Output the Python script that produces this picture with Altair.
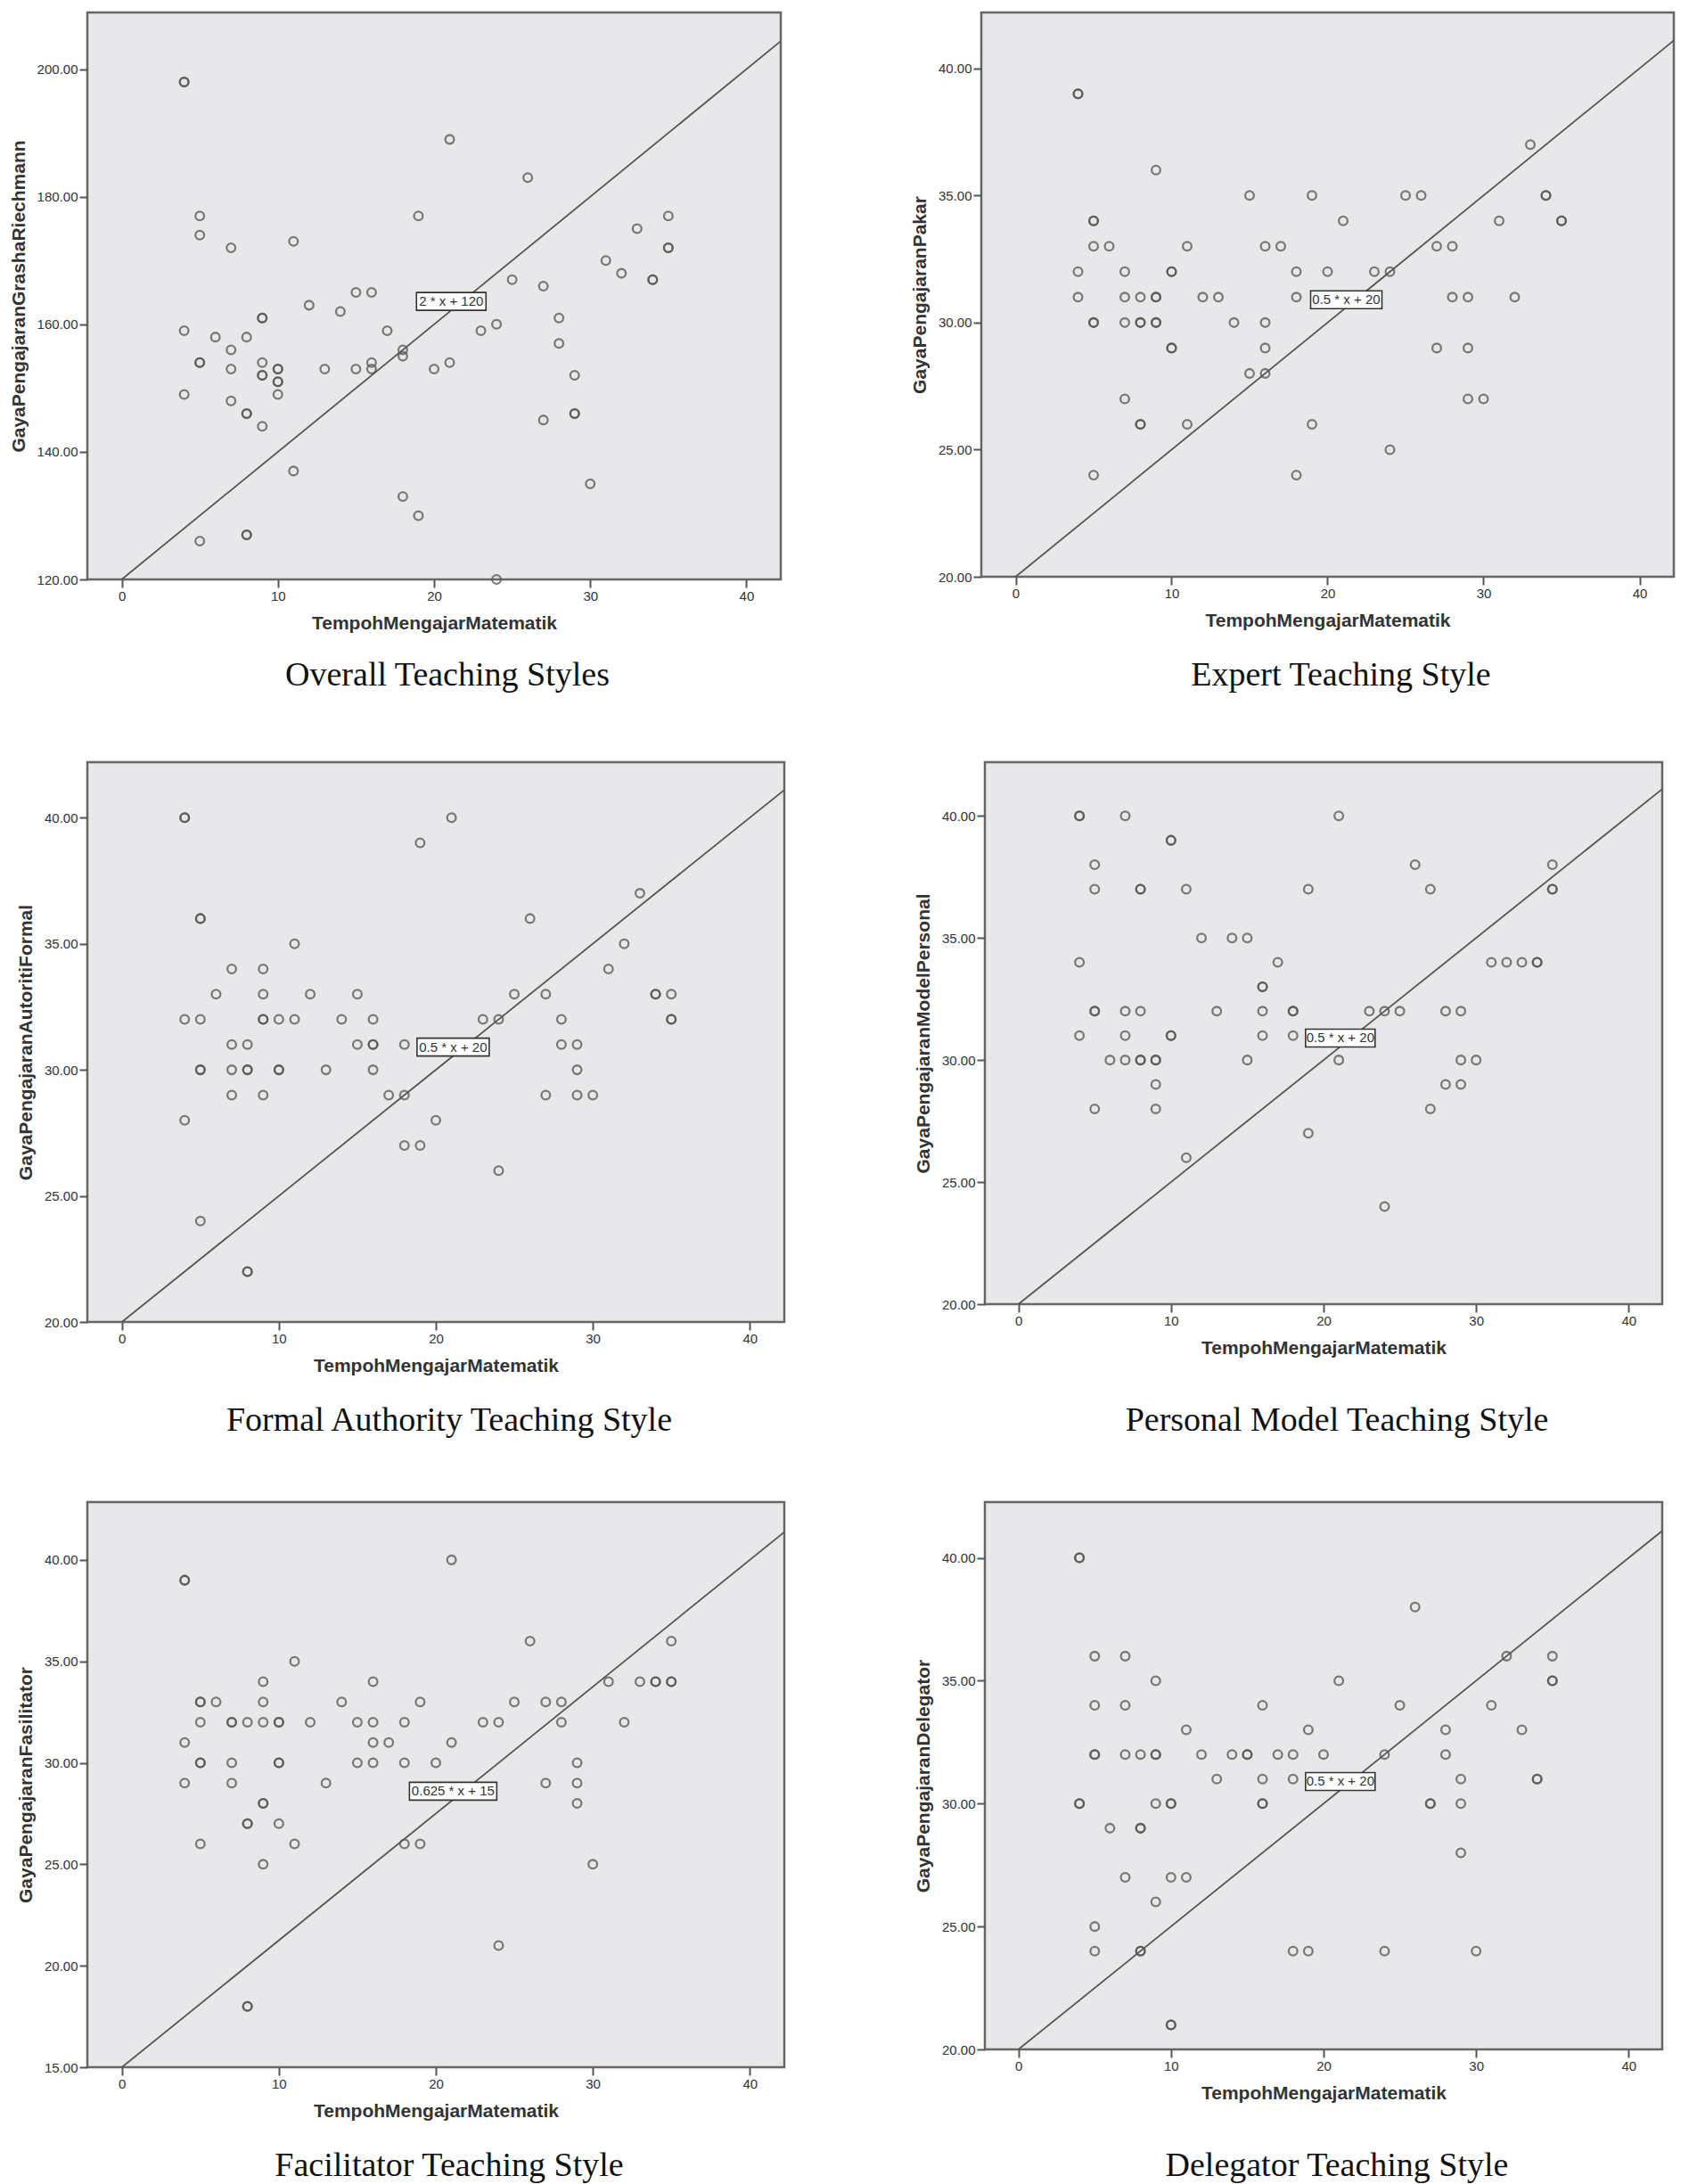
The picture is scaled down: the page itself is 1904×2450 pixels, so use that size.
import altair as alt
import pandas as pd

# ---- data: {y value: [x values]} (repeated x = overlapping points)
overall = {198: [4, 4], 189: [21], 183: [26], 177: [5, 19, 35], 175: [33], 174: [5], 173: [11],
           172: [7, 35, 35], 170: [31], 168: [32], 167: [25, 34, 34], 166: [27], 165: [15, 16],
           163: [12], 162: [14], 161: [9, 9, 28], 160: [24], 159: [4, 17, 23], 158: [6, 8],
           157: [28], 156: [7, 18], 155: [18], 154: [5, 5, 9, 16, 21],
           153: [7, 10, 10, 13, 15, 16, 20], 152: [9, 9, 29], 151: [10, 10], 149: [4, 10],
           148: [7], 146: [8, 8, 29, 29], 145: [27], 144: [9], 137: [11], 135: [30], 133: [18],
           130: [19], 127: [8, 8], 126: [5], 120: [24]}
expert = {39: [4, 4], 37: [33], 36: [9], 35: [15, 19, 25, 26, 34, 34], 34: [5, 5, 21, 31, 35, 35],
          33: [5, 6, 11, 16, 17, 27, 28], 32: [4, 7, 10, 10, 18, 20, 23, 24],
          31: [4, 7, 8, 9, 9, 12, 13, 18, 28, 29, 32], 30: [5, 5, 7, 8, 8, 9, 9, 14, 16],
          29: [10, 10, 16, 27, 29], 28: [15, 16], 27: [7, 29, 30], 26: [8, 8, 11, 19], 25: [24],
          24: [5, 18]}
formal = {40: [4, 4, 21], 39: [19], 37: [33], 36: [5, 5, 26], 35: [11, 32], 34: [7, 9, 31],
          33: [6, 9, 12, 15, 25, 27, 34, 34, 35], 32: [4, 5, 9, 9, 10, 11, 14, 16, 23, 24, 28, 35, 35],
          31: [7, 8, 15, 16, 16, 18, 28, 29], 30: [5, 5, 7, 8, 8, 10, 10, 13, 16, 29],
          29: [7, 9, 17, 18, 27, 29, 30], 28: [4, 20], 27: [18, 19], 26: [24], 24: [5], 22: [8, 8]}
personal = {40: [4, 4, 7, 21], 39: [10, 10], 38: [5, 26, 35], 37: [5, 8, 8, 11, 19, 27, 35, 35],
            35: [12, 14, 15], 34: [4, 17, 31, 32, 33, 34, 34], 33: [16, 16],
            32: [5, 5, 7, 8, 13, 16, 18, 18, 23, 24, 25, 28, 29], 31: [4, 7, 10, 10, 16, 18],
            30: [6, 7, 8, 8, 9, 9, 15, 21, 29, 30], 29: [9, 28, 29], 28: [5, 9, 27], 27: [19],
            26: [11], 24: [24]}
facilitator = {40: [21], 39: [4, 4], 36: [26, 35], 35: [11], 34: [9, 16, 31, 33, 34, 34, 35, 35],
               33: [5, 5, 6, 9, 14, 19, 25, 27, 28],
               32: [5, 7, 7, 8, 9, 10, 10, 12, 15, 16, 18, 23, 24, 28, 32], 31: [4, 16, 17, 21],
               30: [5, 5, 7, 10, 10, 15, 16, 18, 20, 29], 29: [4, 7, 13, 27, 29], 28: [9, 9, 29],
               27: [8, 8, 10], 26: [5, 11, 18, 19], 25: [9, 30], 21: [24], 18: [8, 8]}
delegator = {40: [4, 4], 38: [26], 36: [5, 7, 32, 35], 35: [9, 21, 35, 35], 34: [5, 7, 16, 25, 31],
             33: [11, 19, 28, 33], 32: [5, 5, 7, 8, 9, 9, 12, 14, 15, 15, 17, 18, 20, 24, 28],
             31: [13, 16, 18, 29, 34, 34], 30: [4, 4, 9, 10, 10, 16, 16, 27, 27, 29], 29: [6, 8, 8],
             28: [29], 27: [7, 10, 11], 26: [9], 25: [5], 24: [5, 8, 8, 18, 19, 24, 30], 21: [10, 10]}

y_titles = ["GayaPengajaranGrashaRiechmann", "GayaPengajaranPakar", "GayaPengajaranAutoritiFormal",
            "GayaPengajaranModelPersonal", "GayaPengajaranFasilitator", "GayaPengajaranDelegator"]
captions = ["Overall Teaching Styles", "Expert Teaching Style", "Formal Authority Teaching Style",
            "Personal Model Teaching Style", "Facilitator Teaching Style", "Delegator Teaching Style"]
x_title = "TempohMengajarMatematik"
x_ticks = [0, 10, 20, 30, 40]
y_ticks = [[120, 140, 160, 180, 200], [20, 25, 30, 35, 40], [20, 25, 30, 35, 40],
           [20, 25, 30, 35, 40], [15, 20, 25, 30, 35, 40], [20, 25, 30, 35, 40]]
y_domains = [[120, 208.9], [20, 42.2], [20, 42.2], [20, 42.2], [15, 42.85], [20, 42.27]]
x_domain = [-2.2, 42.2]
slopes = [2, 0.5, 0.5, 0.5, 0.625, 0.5]
intercepts = [120, 20, 20, 20, 15, 20]
eq_texts = ["2 * x + 120", "0.5 * x + 20", "0.5 * x + 20", "0.5 * x + 20", "0.625 * x + 15", "0.5 * x + 20"]
eq_x = [21.1, 21.2, 21.1, 21.1, 21.1, 21.1]
eq_y = [163.6, 30.9, 30.9, 30.9, 28.6, 30.9]

# ---- layout / style
widths = [778, 777, 782, 760, 782, 760]
heights = [636, 633, 628, 608, 634, 614]
box_w = [78, 80, 81, 78, 98, 78]
box_h = 20
cap_offsets = [30, 33, 33, 53, 33, 53]
GRAY = "#555555"


def expand(rows):
    xs, ys = [], []
    for yv, xl in rows.items():
        for xv in xl:
            xs.append(xv)
            ys.append(yv)
    return pd.DataFrame({"x": xs, "y": ys})


def panel(i, rows):
    df = expand(rows)
    xs = alt.Scale(domain=x_domain, nice=False, zero=False)
    ys = alt.Scale(domain=y_domains[i], nice=False, zero=False)
    xenc = alt.X("x:Q", scale=xs, axis=alt.Axis(values=x_ticks, title=x_title, format="d"))
    yenc = alt.Y("y:Q", scale=ys, axis=alt.Axis(values=y_ticks[i], title=y_titles[i], format=".2f"))
    pts = alt.Chart(df).mark_point(shape="circle", filled=False, size=95, strokeWidth=2.3,
                                   color=GRAY, opacity=0.75).encode(x=xenc, y=yenc)
    line_df = pd.DataFrame({"x": [0, x_domain[1]]})
    line_df["y"] = slopes[i] * line_df["x"] + intercepts[i]
    line = alt.Chart(line_df).mark_line(color=GRAY, strokeWidth=1.8, clip=True).encode(
        x=alt.X("x:Q", scale=xs), y=alt.Y("y:Q", scale=ys))
    lab = pd.DataFrame({"x": [eq_x[i]], "y": [eq_y[i]], "t": [eq_texts[i]]})
    r = box_h / box_w[i]
    path = f"M-1,-{r:.4f}L1,-{r:.4f}L1,{r:.4f}L-1,{r:.4f}Z"
    box = alt.Chart(lab).mark_point(shape=path, size=box_w[i] ** 2, filled=True, fill="white",
                                    stroke="#333333", strokeWidth=1.6, opacity=1).encode(
        x=alt.X("x:Q", scale=xs), y=alt.Y("y:Q", scale=ys))
    txt = alt.Chart(lab).mark_text(font="Liberation Sans", fontSize=15, color="#333333",
                                   baseline="middle", align="center").encode(
        x=alt.X("x:Q", scale=xs), y=alt.Y("y:Q", scale=ys), text="t:N")
    return alt.layer(pts, line, box, txt).properties(
        width=widths[i], height=heights[i],
        title=alt.TitleParams(captions[i], orient="bottom", font="Liberation Serif", fontSize=38,
                              fontWeight="normal", color="#111111", offset=cap_offsets[i],
                              dx=15, anchor="middle", frame="group"))


datasets = [overall, expert, formal, personal, facilitator, delegator]
p = [panel(i, d) for i, d in enumerate(datasets)]

row1 = alt.hconcat(p[0], p[1], spacing=142)
row2 = alt.hconcat(p[2], p[3], spacing=142)
row3 = alt.hconcat(p[4], p[5], spacing=142)

chart = alt.vconcat(alt.vconcat(row1, row2, spacing=74), row3, spacing=68).properties(
    padding={"left": 0, "top": 4, "right": 5, "bottom": 0}, background="white"
).configure_view(
    stroke="#666666", strokeWidth=2.5, fill="#E8E8EA"
).configure_axis(
    domain=False, grid=False, ticks=True, tickColor=GRAY, tickWidth=2, tickSize=9,
    labelFont="Liberation Sans", labelFontSize=15, labelColor="#333333", labelPadding=2,
    titleFont="Liberation Sans", titleFontSize=21, titleFontWeight="bold", titleColor="#333333"
).configure_axisY(titlePadding=10).configure_axisX(titlePadding=12)

chart.save("out.html", embed_options={"renderer": "svg", "actions": False})
